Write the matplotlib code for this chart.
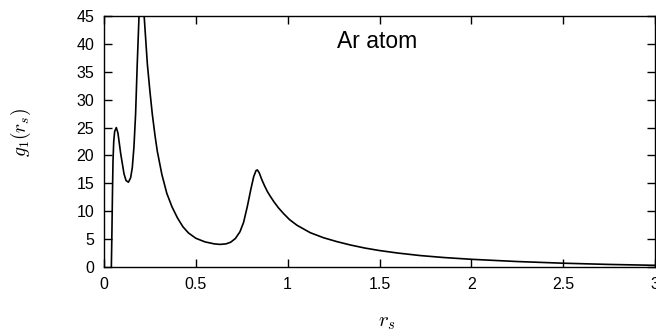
"""Radial distribution g_1(r_s) for the Ar atom, redrawn from the figure."""

import matplotlib
matplotlib.use("Agg")
import matplotlib.pyplot as plt

plt.rcParams["font.family"] = ["Liberation Sans", "DejaVu Sans"]
plt.rcParams["mathtext.fontset"] = "cm"

# values
R_S = [0.040, 0.043, 0.046, 0.049, 0.053, 0.058, 0.067, 0.076, 0.091, 0.109,
       0.120, 0.133, 0.145, 0.154, 0.163, 0.172, 0.181, 0.191, 0.200, 0.209,
       0.218, 0.236, 0.250, 0.263, 0.278, 0.290, 0.315, 0.342, 0.370, 0.400,
       0.430, 0.460, 0.500, 0.550, 0.600, 0.632, 0.665, 0.690, 0.715, 0.740,
       0.760, 0.780, 0.800, 0.815, 0.828, 0.835, 0.845, 0.860, 0.875, 0.890,
       0.905, 0.925, 0.950, 0.977, 1.010, 1.050, 1.123, 1.195, 1.268, 1.341,
       1.420, 1.500, 1.600, 1.722, 1.850, 2.000, 2.250, 2.500, 2.750, 3.000]
G1 = [0.0, 6.0, 13.0, 19.0, 22.5, 24.3, 25.0, 24.0, 20.3, 16.7,
      15.5, 15.2, 16.0, 17.8, 21.5, 27.4, 36.4, 45.3, 52.0, 50.0,
      45.3, 36.4, 31.5, 27.4, 23.5, 20.8, 16.6, 13.2, 10.8, 8.8,
      7.2, 6.1, 5.15, 4.5, 4.15, 4.05, 4.15, 4.45, 5.1, 6.3,
      8.0, 10.8, 14.0, 16.2, 17.3, 17.4, 16.9, 15.6, 14.5, 13.5,
      12.7, 11.7, 10.6, 9.6, 8.5, 7.5, 6.15, 5.25, 4.55, 3.95,
      3.4, 2.95, 2.5, 2.05, 1.7, 1.38, 0.98, 0.68, 0.46, 0.30]

X_TICKS = [0, 0.5, 1, 1.5, 2, 2.5, 3]
X_TICK_LABELS = ["0", "0.5", "1", "1.5", "2", "2.5", "3"]
Y_TICKS = [0, 5, 10, 15, 20, 25, 30, 35, 40, 45]


def main():
    fig = plt.figure(figsize=(6.56, 3.34), dpi=100)
    ax = fig.add_axes([104 / 656, 1 - 267 / 334, 551 / 656, 251 / 334])

    ax.plot(R_S, G1, color="black", linewidth=1.2)

    ax.set_xlim(0, 3)
    ax.set_ylim(0, 45)
    ax.set_xticks(X_TICKS)
    ax.set_xticklabels(X_TICK_LABELS)
    ax.set_yticks(Y_TICKS)
    ax.tick_params(direction="in", top=True, right=True, length=6,
                   width=1, labelsize=11.5, pad=7)
    for s in ax.spines.values():
        s.set_linewidth(1.0)

    ax.set_xlabel(r"$r_s$", fontsize=15)
    ax.xaxis.set_label_coords(0.514, -0.185)
    ax.set_ylabel(r"$g_1(r_s)$", fontsize=14)
    ax.yaxis.set_label_coords(-0.129, 0.534)

    ax.text(1.27, 39.2, "Ar atom", fontsize=16.5, va="baseline", ha="left")

    fig.savefig("out.png", dpi=100)
    plt.close(fig)


if __name__ == "__main__":
    main()
